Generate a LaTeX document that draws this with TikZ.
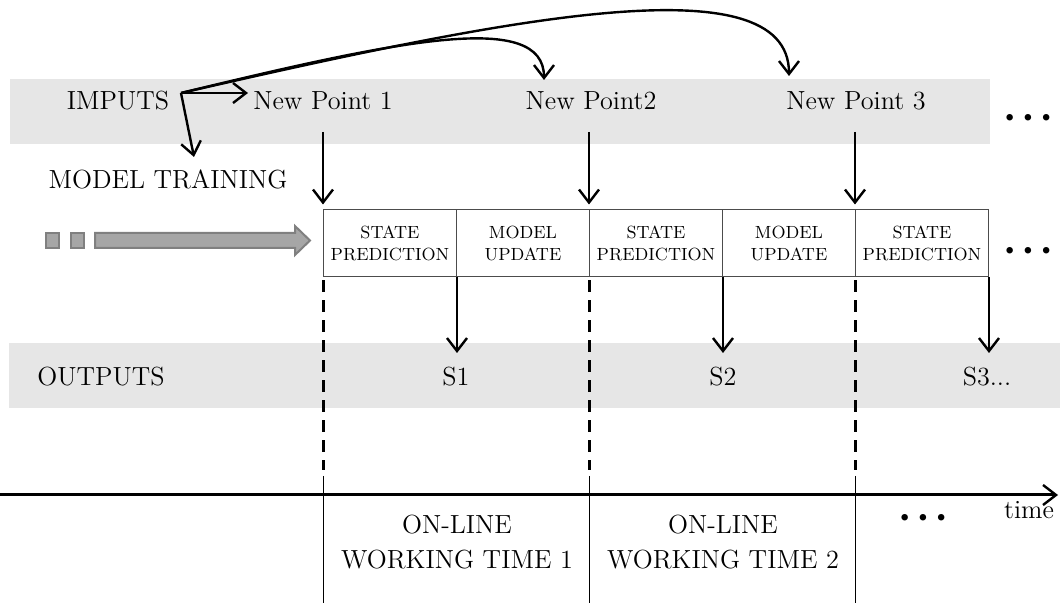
\documentclass[tikz,border=0pt]{standalone}
\usetikzlibrary{arrows.meta}
\definecolor{bandgray}{HTML}{E6E6E6}
\definecolor{pipefill}{HTML}{A6A6A6}
\definecolor{pipeline}{HTML}{808080}
\begin{document}
\begin{tikzpicture}[x=0.5pt,y=-0.5pt,
  lbl/.style={font=\fontsize{13.1}{17.5}\selectfont, inner sep=0pt},
  small/.style={font=\fontsize{8.8}{11}\selectfont},
  cellbox/.style={draw=black!70, line width=0.5pt, minimum width=66.5pt,
    minimum height=33.5pt, inner sep=0pt, align=center, small},
  arr/.style={line width=1.2pt, -{Straight Barb[length=6.5pt,width=10pt,line width=1.2pt]}},
  guide/.style={line width=1.5pt, dash pattern=on 6pt off 4pt},
  divider/.style={line width=0.5pt},
  dotrow/.style={inner sep=0pt, font=\fontsize{12}{12}\selectfont},
]
\useasboundingbox (0,0) rectangle (1060,603);

% shaded rows
\fill[bandgray] (10,79) rectangle (990,144);
\fill[bandgray] (9,343) rectangle (1060,408);

% row labels
\node[lbl] (imp) at (118,101) {IMPUTS};
\node[lbl] (np1) at (323,101) {New Point 1};
\node[lbl] (np2) at (591,101) {New Point2};
\node[lbl] (np3) at (856,101) {New Point 3};
\node[lbl] (train) at (168,179) {MODEL TRAINING};
\node[lbl] (outs) at (101,377) {OUTPUTS};
\node[lbl] (s1) at (456,377) {S1};
\node[lbl] (s2) at (723,377) {S2};
\node[lbl] (s3) at (987,377) {S3...};

% continuation dots
\node[dotrow] (dA) at (1028,119) {\textbullet\textbullet\textbullet};
\node[dotrow] (dB) at (1028,252) {\textbullet\textbullet\textbullet};
\node[dotrow] (dC) at (923,519) {\textbullet\textbullet\textbullet};

% processing cells
\node[cellbox] (c1) at (390,243.5) {STATE\\PREDICTION};
\node[cellbox] (c2) at (523,243.5) {MODEL\\UPDATE};
\node[cellbox] (c3) at (656,243.5) {STATE\\PREDICTION};
\node[cellbox] (c4) at (789,243.5) {MODEL\\UPDATE};
\node[cellbox] (c5) at (922,243.5) {STATE\\PREDICTION};

% training pipeline symbol
\begin{scope}[fill=pipefill, draw=pipeline, line width=1pt]
  \filldraw (46,233) rectangle (59,248);
  \filldraw (71,233) rectangle (84,248);
  \filldraw (95,233) -- (295,233) -- (295,226) -- (310,240.5) -- (295,255)
    -- (295,248) -- (95,248) -- cycle;
\end{scope}

% arrows from the inputs
\coordinate (src) at (181,93);
\coordinate (t1) at (248,93);
\coordinate (t0) at (194,157);
\coordinate (t2) at (544,80);
\coordinate (t3) at (789,76);
\draw[arr] (src) -- (t1);
\draw[arr] (src) -- (t0);
\draw[arr] (src) .. controls (400,40) and (544,10) .. (t2);
\draw[arr] (src) .. controls (500,20) and (789,-40) .. (t3);

% new points feed the cells
\coordinate (p1) at (c1.north west |- 0,132);
\coordinate (p2) at (c3.north west |- 0,132);
\coordinate (p3) at (c5.north west |- 0,132);
\draw[arr, shorten >=2.5pt] (p1) -- (c1.north west);
\draw[arr, shorten >=2.5pt] (p2) -- (c3.north west);
\draw[arr, shorten >=2.5pt] (p3) -- (c5.north west);

% cells produce outputs
\coordinate (o1) at (c1.south east |- 0,353);
\coordinate (o2) at (c3.south east |- 0,353);
\coordinate (o3) at (c5.south east |- 0,353);
\draw[arr] (c1.south east) -- (o1);
\draw[arr] (c3.south east) -- (o2);
\draw[arr] (c5.south east) -- (o3);

% dashed guides
\coordinate (g1) at (c1.south west |- 0,470);
\coordinate (g2) at (c3.south west |- 0,470);
\coordinate (g3) at (c5.south west |- 0,470);
\draw[guide] ([yshift=-1.5pt]c1.south west) -- (g1);
\draw[guide] ([yshift=-1.5pt]c3.south west) -- (g2);
\draw[guide] ([yshift=-1.5pt]c5.south west) -- (g3);

% time axis
\coordinate (ax0) at (0,495);
\coordinate (ax1) at (1058,495);
\draw[arr, line width=1.5pt] (ax0) -- (ax1);
\node[lbl] (time) at (1029,510) {time};

% working-time intervals
\coordinate (w1) at (c1.west |- 0,476);
\coordinate (w2) at (c3.west |- 0,476);
\coordinate (w3) at (c5.west |- 0,476);
\coordinate (b1) at (c1.west |- 0,603);
\coordinate (b2) at (c3.west |- 0,603);
\coordinate (b3) at (c5.west |- 0,603);
\draw[divider] (w1) -- (b1);
\draw[divider] (w2) -- (b2);
\draw[divider] (w3) -- (b3);
\node[lbl, align=center] (wt1) at (457,542) {ON-LINE\\WORKING TIME 1};
\node[lbl, align=center] (wt2) at (723,542) {ON-LINE\\WORKING TIME 2};
\end{tikzpicture}
\end{document}
